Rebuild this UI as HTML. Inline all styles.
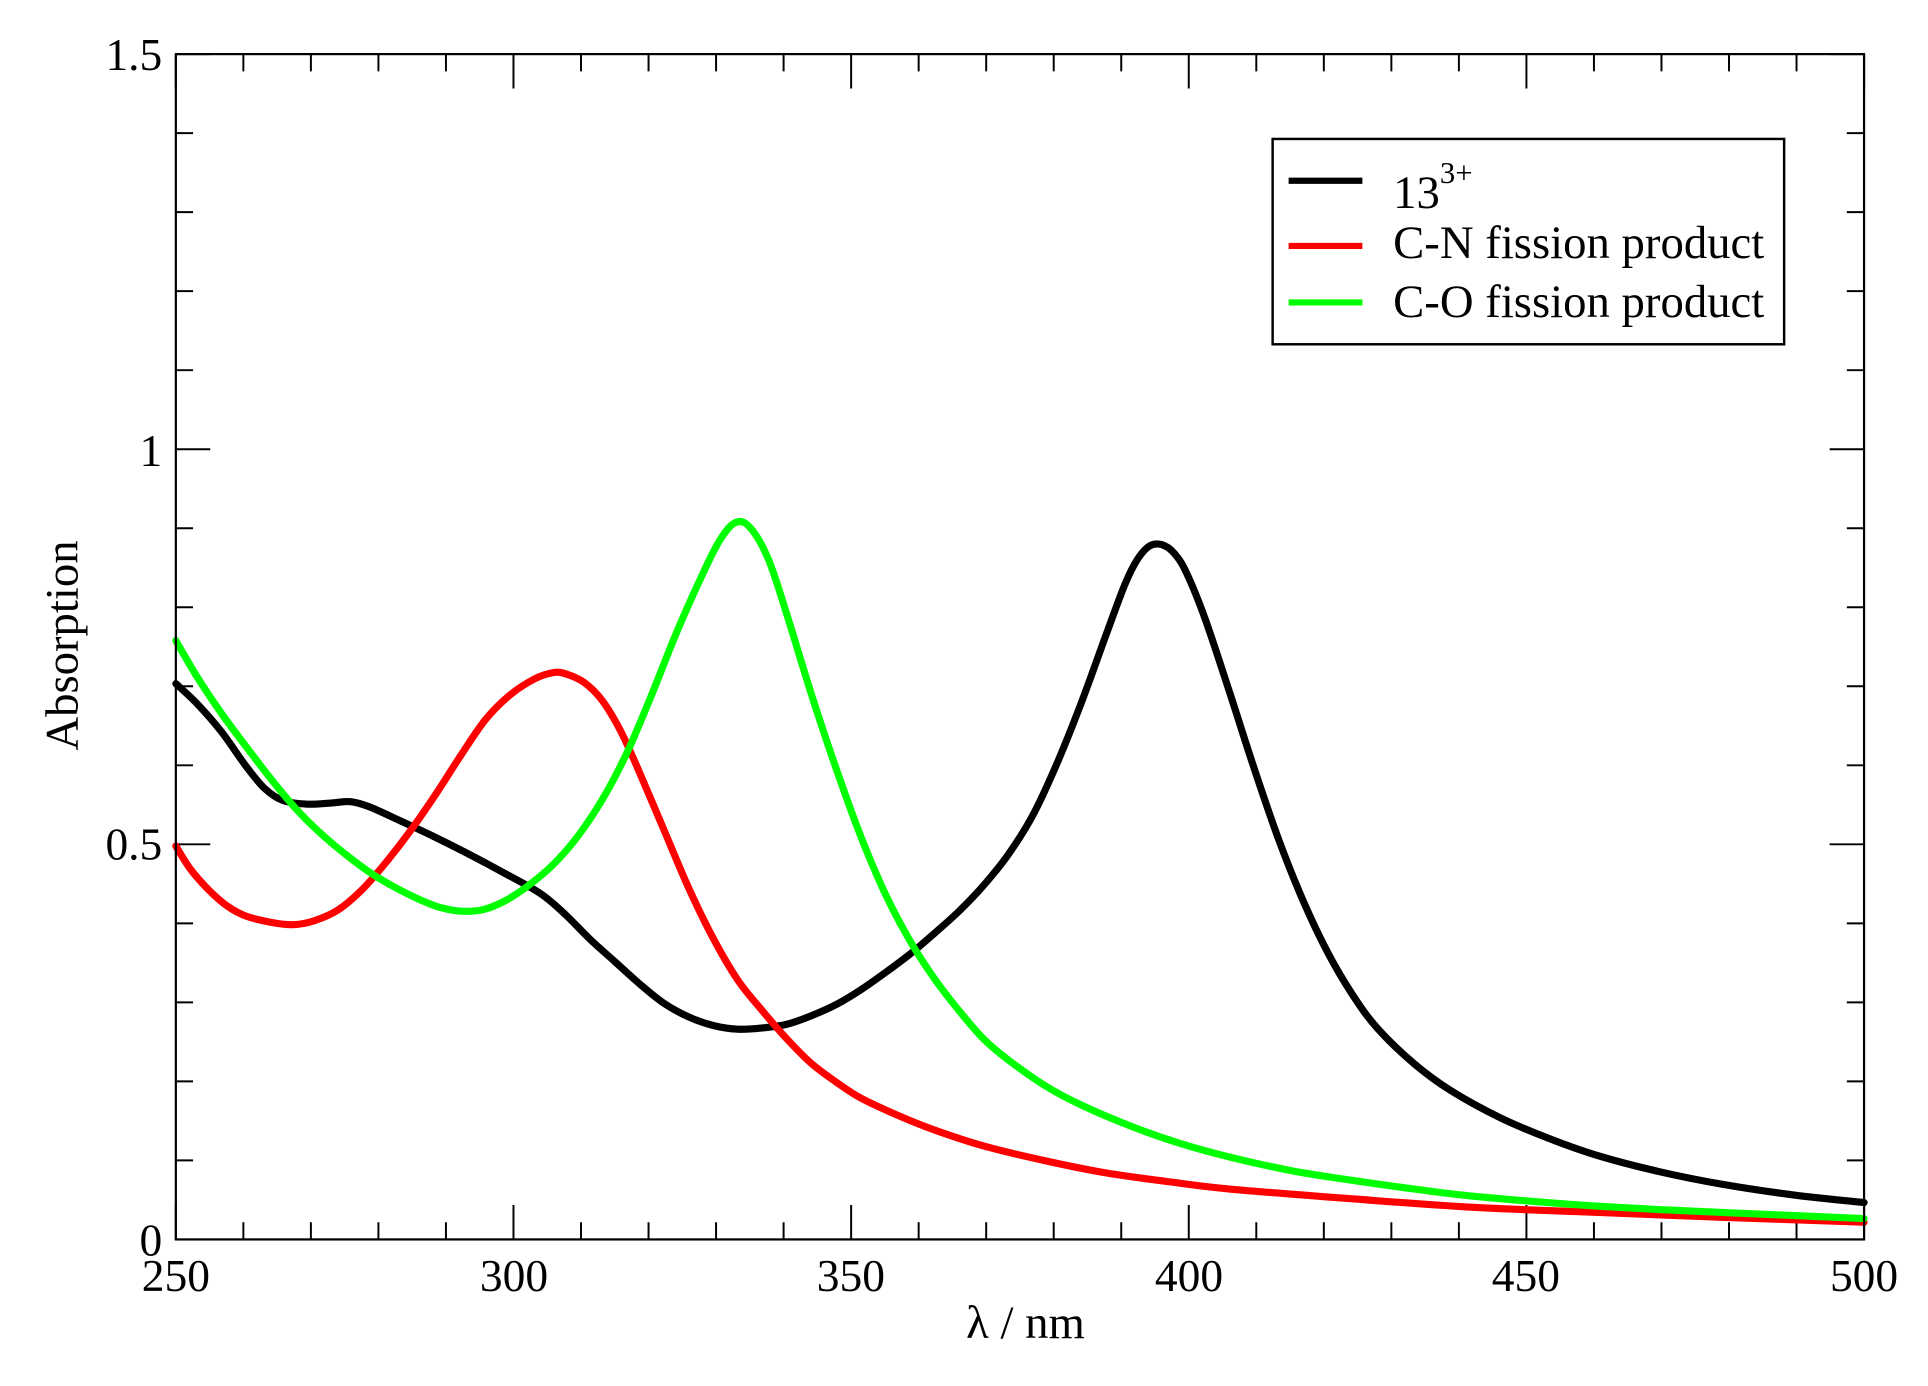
<!DOCTYPE html>
<html><head><meta charset="utf-8"><style>html,body{margin:0;padding:0;background:#fff}svg{display:block}</style></head>
<body>
<svg id="s" width="1928" height="1386" viewBox="0 0 1568 1127.2" xmlns="http://www.w3.org/2000/svg" font-family="'Liberation Serif',serif">
<rect width="1568" height="1127.2" fill="#fff"/>
<g id="ticks" stroke="#000" stroke-width="1.6" fill="none"></g>
<g id="curves" fill="none" stroke-width="5.8" stroke-linejoin="round" stroke-linecap="round"></g>
<rect x="143" y="44" width="1373" height="964" fill="none" stroke="#000" stroke-width="1.8"/>
<g font-size="37" fill="#000" text-anchor="end">
<text x="132" y="57">1.5</text>
<text x="132" y="379">1</text>
<text x="132" y="699">0.5</text>
<text x="132" y="1021">0</text>
</g>
<g font-size="37" fill="#000" text-anchor="middle">
<text x="143" y="1050">250</text>
<text x="418" y="1050">300</text>
<text x="692" y="1050">350</text>
<text x="967" y="1050">400</text>
<text x="1241" y="1050">450</text>
<text x="1516" y="1050">500</text>
<text x="834" y="1088" font-size="38">λ / nm</text>
<text transform="translate(63,525) rotate(-90)" font-size="38">Absorption</text>
</g>
<rect x="1035" y="113" width="416" height="167" fill="#fff" stroke="#000" stroke-width="2"/>
<line x1="1048" y1="147" x2="1108" y2="147" stroke="#000" stroke-width="5"/>
<line x1="1048" y1="200" x2="1108" y2="200" stroke="#f00" stroke-width="5"/>
<line x1="1048" y1="246" x2="1108" y2="246" stroke="#0f0" stroke-width="5"/>
<g font-size="38" fill="#000">
<text x="1133" y="169">13<tspan dy="-20" font-size="25">3+</tspan></text>
<text x="1133" y="210">C-N fission product</text>
<text x="1133" y="258">C-O fission product</text>
</g>
</svg>
<script>
var NS="http://www.w3.org/2000/svg";
var t=document.getElementById("ticks"),d="";
function L(a,b,c,e){d+="M"+a+" "+b+"L"+c+" "+e;}
for(var i=0;i<=25;i++){var x=143+i*1373/25,len=(i%5==0)?28:14;L(x,1008,x,1008-len);L(x,44,x,44+len);}
for(var j=0;j<=15;j++){var y=1008-j*964/15,len=(j%5==0)?28:14;L(143,y,143+len,y);L(1516,y,1516-len,y);}
var p=document.createElementNS(NS,"path");p.setAttribute("d",d);t.appendChild(p);
function cr(pts){var s="M"+pts[0][0]+" "+pts[0][1];for(var i=0;i<pts.length-1;i++){var p0=pts[i-1]||pts[i],p1=pts[i],p2=pts[i+1],p3=pts[i+2]||p2;
s+="C"+(p1[0]+(p2[0]-p0[0])/6)+" "+(p1[1]+(p2[1]-p0[1])/6)+","+(p2[0]-(p3[0]-p1[0])/6)+" "+(p2[1]-(p3[1]-p1[1])/6)+","+p2[0]+" "+p2[1];}return s;}
var black=[[143,556],[160,572],[180,595],[200,623],[215,641],[230,651],[250,654],[270,653],[285,652],[300,656],[320,665],[350,679],[380,694],[410,710],[440,727],[460,744],[480,764],[500,782],[520,800],[540,816],[560,827],[580,834],[600,837],[620,836],[640,833],[660,826],[680,817],[700,805],[720,791],[740,776],[760,759],[780,741],[800,720],[820,695],[840,663],[860,620],[880,570],[900,515],[915,475],[925,455],[935,444],[945,443],[955,450],[965,466],[980,503],[1000,563],[1020,625],[1040,683],[1060,733],[1080,775],[1100,809],[1120,836],[1150,865],[1180,887],[1220,909],[1260,926],[1300,940],[1350,953],[1400,963],[1460,972],[1516,978]];
var red=[[143,688],[155,707],[170,724],[185,737],[200,745],[220,750],[238,752],[255,749],[275,740],[295,723],[315,700],[335,674],[355,645],[375,614],[395,585],[415,565],[435,552],[450,547],[460,548],[475,555],[490,570],[505,595],[520,628],[540,675],[560,722],[580,763],[600,797],[620,822],[640,845],[660,865],[680,880],[700,893],[730,907],[760,919],[800,932],[850,944],[900,954],[950,961],[1000,967],[1100,975],[1200,982],[1300,986],[1400,990],[1516,994]];
var green=[[143,521],[160,550],[180,580],[200,607],[220,633],[240,657],[260,677],[280,694],[300,709],[320,721],[340,731],[358,738],[375,741],[392,740],[410,733],[430,720],[450,703],[470,680],[490,650],[510,612],[530,565],[550,515],[570,470],[585,440],[598,425],[610,429],[625,455],[640,500],[660,565],[680,625],[700,680],[720,727],[740,765],[760,796],[780,822],[800,845],[820,862],[850,883],[880,899],[920,916],[960,930],[1000,941],[1050,952],[1100,960],[1150,967],[1200,973],[1300,981],[1400,986],[1516,991]];
var c=document.getElementById("curves");
[[black,"#000"],[red,"#f00"],[green,"#0f0"]].forEach(function(a){var q=document.createElementNS(NS,"path");q.setAttribute("d",cr(a[0]));q.setAttribute("stroke",a[1]);c.appendChild(q);});
</script>
</body></html>
